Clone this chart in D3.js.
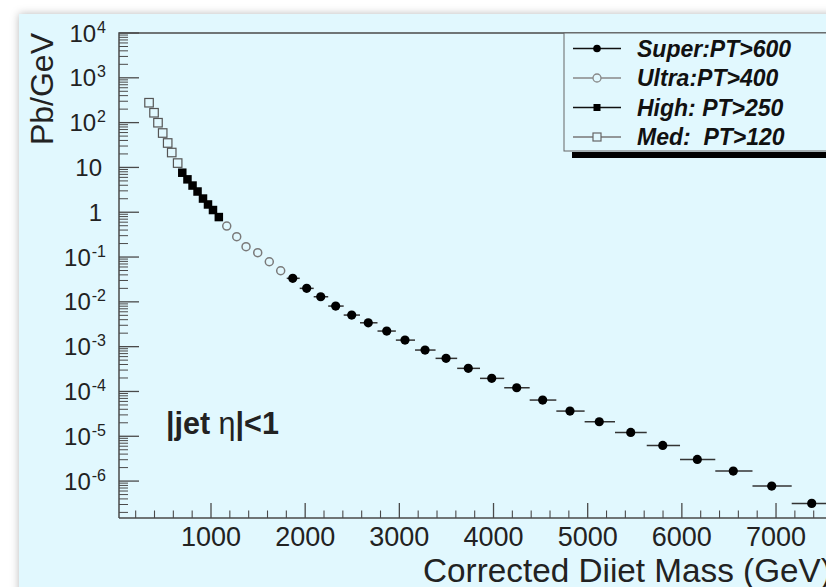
<!DOCTYPE html>
<html><head><meta charset="utf-8">
<script src="https://cdn.jsdelivr.net/npm/d3@7"></script>
<style>body{margin:0;background:#fff;overflow:hidden} svg{display:block}</style>
</head><body>
<svg id="c" width="826" height="587"></svg>
<script>
// ---- data ----
const medMass   = [342, 395, 437, 487, 540, 583, 646];
const medVal    = [278, 166, 99.5, 58.6, 35.1, 21.5, 12.5];
const highMass  = [695, 750, 804, 857, 915, 968, 1021, 1083];
const highVal   = [7.62, 5.42, 3.94, 2.90, 2.02, 1.49, 1.12, 0.78];
const ultraMass = [1167, 1273, 1372, 1496, 1619, 1740];
const ultraVal  = [0.492, 0.284, 0.170, 0.125, 0.0785, 0.0494];
const superMass = [1868, 2016, 2165, 2324, 2494, 2670, 2866, 3060, 3273, 3496, 3732,
                   3981, 4246, 4522, 4812, 5123, 5457, 5797, 6164, 6546, 6954, 7379];
const superVal  = [0.0335, 0.0200, 0.0130, 0.00805, 0.00507, 0.00341, 0.00223, 0.00140,
                   8.4e-4, 5.48e-4, 3.28e-4, 1.96e-4, 1.21e-4, 6.43e-5, 3.65e-5, 2.11e-5,
                   1.22e-5, 6.26e-6, 3.05e-6, 1.67e-6, 7.73e-7, 3.18e-7];
const xTickLabels = [1000, 2000, 3000, 4000, 5000, 6000, 7000];
const yDecadeExps = [-6, -5, -4, -3, -2, -1, 0, 1, 2, 3, 4];
const legendLabels = ["Super:PT>600", "Ultra:PT>400", "High: PT>250", "Med:  PT>120"];
const xTitle = "Corrected Diiet Mass (GeV)";
const yTitle = "Pb/GeV";

// ---- layout ----
const svg = d3.select("#c");
const FONT = "'Liberation Sans', Arial, Helvetica, sans-serif";
const L = 119, T = 33, B = 518;
const x = d3.scaleLinear().domain([23, 8000]).range([L, 870.2]);
const y = d3.scaleLog().domain([1.5e-7, 1e4]).range([B, T]);

const defs = svg.append("defs");
const f = defs.append("filter").attr("id", "sh").attr("x", "-10%").attr("y", "-10%").attr("width", "130%").attr("height", "130%");
f.append("feDropShadow").attr("dx", 0).attr("dy", 0).attr("stdDeviation", 4)
  .attr("flood-color", "#000").attr("flood-opacity", 0.28);

svg.append("rect").attr("width", 826).attr("height", 587).attr("fill", "#fff");
svg.append("rect").attr("x", 19).attr("y", 14).attr("width", 1000).attr("height", 800)
  .attr("fill", "#e1f8fe").attr("filter", "url(#sh)");

const axisCol = "#4a4a4a";

// y ticks
const [ymin, ymax] = y.domain();
const minorY = [];
for (let e = -7; e < 4; e++) for (let k = 2; k <= 9; k++) {
  const v = k * Math.pow(10, e);
  if (v >= ymin && v <= ymax) minorY.push(v);
}
svg.append("g").selectAll("line").data(minorY).join("line")
  .attr("x1", L).attr("x2", L + 9).attr("y1", d => y(d)).attr("y2", d => y(d))
  .attr("stroke", axisCol).attr("stroke-width", 1);
svg.append("g").selectAll("line").data(yDecadeExps).join("line")
  .attr("x1", L).attr("x2", L + 20).attr("y1", d => y(Math.pow(10, d))).attr("y2", d => y(Math.pow(10, d)))
  .attr("stroke", axisCol).attr("stroke-width", 1.3);

// y labels
const yl = svg.append("g").attr("font-family", FONT).attr("fill", "#222");
yDecadeExps.forEach(e => {
  const yy = y(Math.pow(10, e));
  if (e === 0 || e === 1) {
    yl.append("text").attr("x", 102).attr("y", yy + 8.5).attr("text-anchor", "end")
      .attr("font-size", 24).text(e === 0 ? "1" : "10");
  } else {
    const t = yl.append("text").attr("x", 106).attr("y", yy + 8.5).attr("text-anchor", "end");
    t.append("tspan").attr("font-size", 24).text("10");
    t.append("tspan").attr("font-size", 16).attr("dy", -9).attr("dx", 1).text(String(e));
  }
});

// x ticks
const minorX = d3.range(200, 8001, 200).filter(v => v % 1000 !== 0);
svg.append("g").selectAll("line").data(minorX).join("line")
  .attr("x1", d => x(d)).attr("x2", d => x(d)).attr("y1", B).attr("y2", B - 7.5)
  .attr("stroke", axisCol).attr("stroke-width", 1.1);
svg.append("g").selectAll("line").data(xTickLabels.concat([8000])).join("line")
  .attr("x1", d => x(d)).attr("x2", d => x(d)).attr("y1", B).attr("y2", B - 15)
  .attr("stroke", axisCol).attr("stroke-width", 1.3);
svg.append("g").selectAll("text").data(xTickLabels).join("text")
  .attr("x", d => x(d)).attr("y", 546).attr("text-anchor", "middle")
  .attr("font-family", FONT).attr("font-size", 27).attr("fill", "#222").text(d => d);

// frame
svg.append("path").attr("d", `M${L},${B}H900M${L},${B}V${T}H900`)
  .attr("fill", "none").attr("stroke", axisCol).attr("stroke-width", 1.5);

// titles
svg.append("text").attr("x", 423).attr("y", 582).attr("font-family", FONT)
  .attr("font-size", 33.3).attr("fill", "#222").text(xTitle);
svg.append("text").attr("transform", "translate(53,33) rotate(-90)").attr("text-anchor", "end")
  .attr("font-family", FONT).attr("font-size", 32).attr("fill", "#222").text(yTitle);

const jt = svg.append("text").attr("x", 166).attr("y", 434).attr("font-family", FONT)
  .attr("font-size", 30.5).attr("fill", "#222").attr("font-weight", "bold");
jt.append("tspan").text("|jet ");
jt.append("tspan").attr("font-weight", "normal").text("η");
jt.append("tspan").text("|<1");

// ---- data marks ----
const allMass = medMass.concat(highMass, ultraMass, superMass);
const plot = svg.append("g");
// error bars for super series (bin extents between neighbouring bin centres)
const superBars = superMass.map((m, i) => {
  const j = allMass.indexOf(m);
  const lo = (allMass[j - 1] + m) / 2;
  const hi = j + 1 < allMass.length ? (allMass[j + 1] + m) / 2 : m + (m - allMass[j - 1]) / 2;
  return {lo, hi, v: superVal[i]};
});
plot.append("g").selectAll("line").data(superBars).join("line")
  .attr("x1", d => x(d.lo)).attr("x2", d => x(d.hi)).attr("y1", d => y(d.v)).attr("y2", d => y(d.v))
  .attr("stroke", "#333").attr("stroke-width", 1.5);

const zip = (a, b) => a.map((m, i) => ({m, v: b[i]}));
const sq = 8.5;
plot.append("g").selectAll("rect").data(zip(medMass, medVal)).join("rect")
  .attr("x", d => x(d.m) - sq / 2).attr("y", d => y(d.v) - sq / 2).attr("width", sq).attr("height", sq)
  .attr("fill", "none").attr("stroke", "#555").attr("stroke-width", 1.2);
plot.append("g").selectAll("rect").data(zip(highMass, highVal)).join("rect")
  .attr("x", d => x(d.m) - sq / 2).attr("y", d => y(d.v) - sq / 2).attr("width", sq).attr("height", sq)
  .attr("fill", "#000");
plot.append("g").selectAll("circle").data(zip(ultraMass, ultraVal)).join("circle")
  .attr("cx", d => x(d.m)).attr("cy", d => y(d.v)).attr("r", 4)
  .attr("fill", "none").attr("stroke", "#7a7a7a").attr("stroke-width", 1.5);
plot.append("g").selectAll("circle").data(zip(superMass, superVal)).join("circle")
  .attr("cx", d => x(d.m)).attr("cy", d => y(d.v)).attr("r", 4.6)
  .attr("fill", "#000");

// ---- legend ----
const lg = svg.append("g");
lg.append("rect").attr("x", 572).attr("y", 152).attr("width", 300).attr("height", 6).attr("fill", "#000");
lg.append("rect").attr("x", 564).attr("y", 33).attr("width", 300).attr("height", 118)
  .attr("fill", "#e1f8fe").attr("stroke", "#666").attr("stroke-width", 1);
const rowsY = [48.5, 78, 107.5, 137];
const lineCols = ["#111", "#888", "#111", "#777"];
rowsY.forEach((ry, i) => {
  lg.append("line").attr("x1", 573).attr("x2", 621).attr("y1", ry).attr("y2", ry)
    .attr("stroke", lineCols[i]).attr("stroke-width", 1.3);
  if (i === 0) lg.append("circle").attr("cx", 597).attr("cy", ry).attr("r", 3.8).attr("fill", "#000");
  if (i === 1) lg.append("circle").attr("cx", 597).attr("cy", ry).attr("r", 4).attr("fill", "#e1f8fe").attr("stroke", "#888").attr("stroke-width", 1.3);
  if (i === 2) lg.append("rect").attr("x", 593.5).attr("y", ry - 3.5).attr("width", 7).attr("height", 7).attr("fill", "#000");
  if (i === 3) lg.append("rect").attr("x", 593).attr("y", ry - 4).attr("width", 8).attr("height", 8).attr("fill", "#e1f8fe").attr("stroke", "#666").attr("stroke-width", 1.2);
  lg.append("text").attr("x", 637).attr("y", ry + 8.3).attr("font-family", FONT)
    .attr("font-size", 23).attr("font-weight", "bold").attr("font-style", "italic")
    .attr("fill", "#111").attr("xml:space", "preserve").style("white-space", "pre").text(legendLabels[i]);
});
</script>
</body></html>
